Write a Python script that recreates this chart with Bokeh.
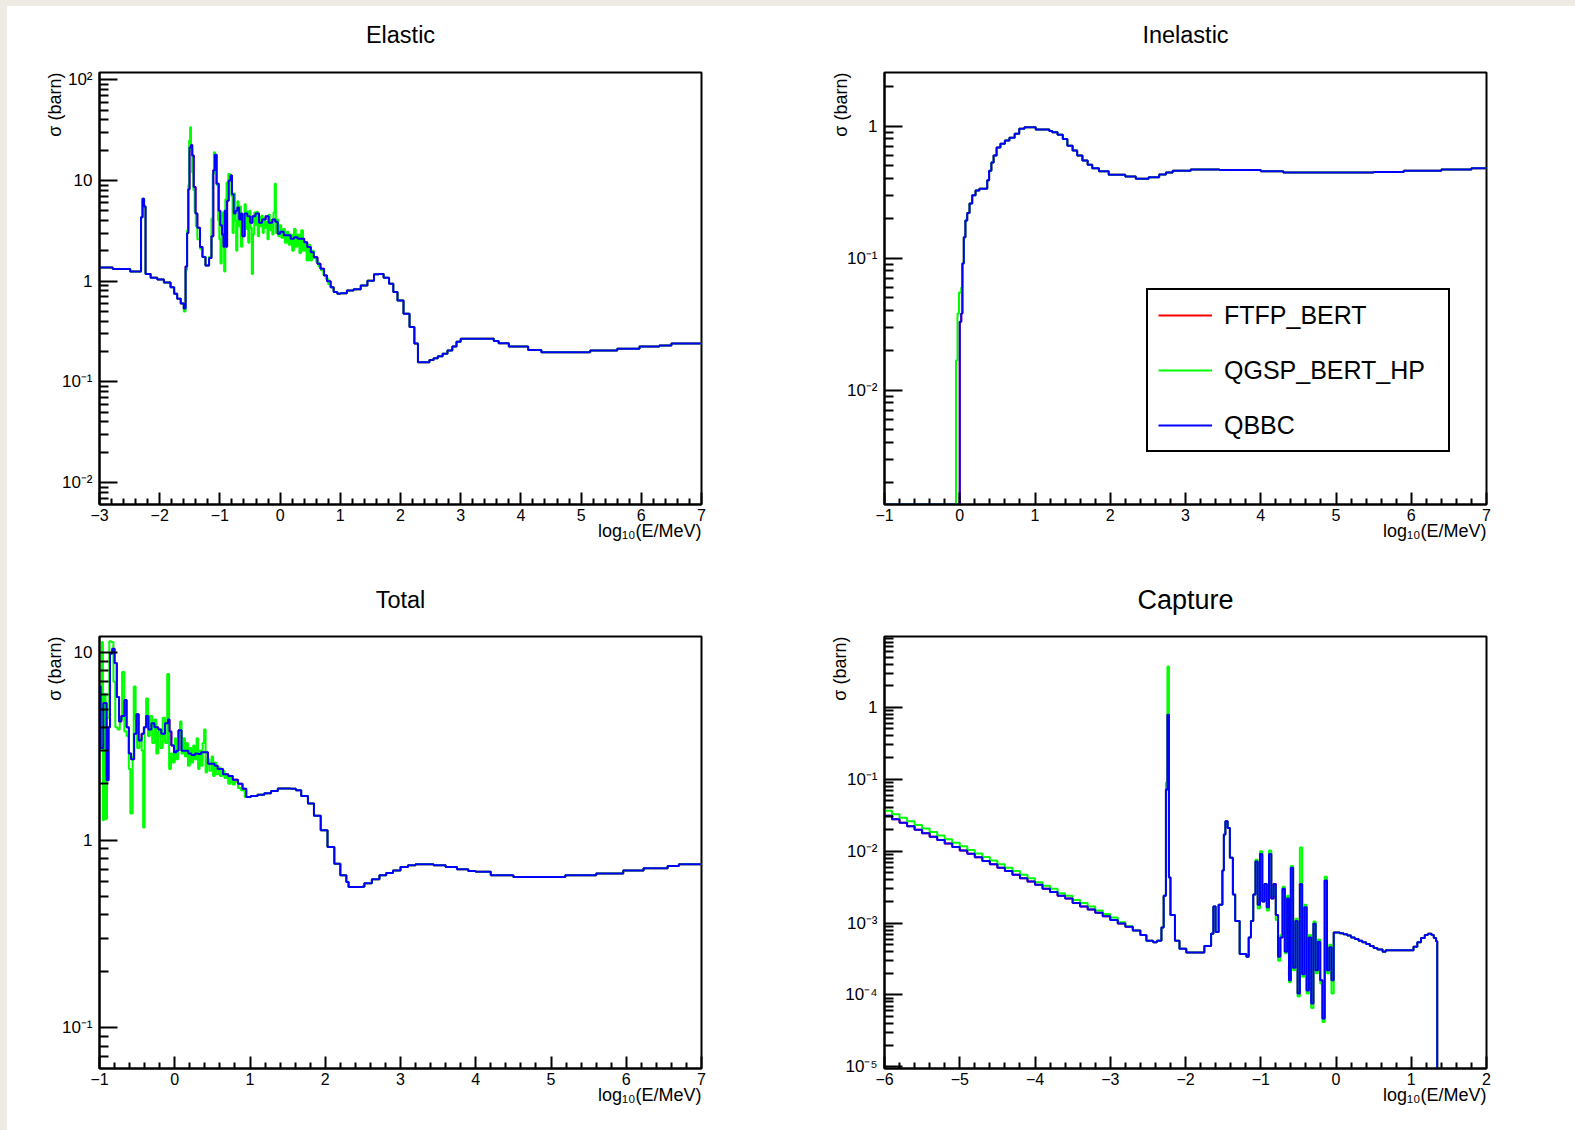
import math
from bokeh.plotting import figure
from bokeh.models import (Range1d, FixedTicker, CustomJSTickFormatter, Title,
                          Legend, LegendItem)
from bokeh.layouts import gridplot
from bokeh.embed import file_html
from bokeh.resources import INLINE

FONT = "Liberation Sans"
C_FTFP, C_HP, C_QBBC = "#ff0000", "#00ff00", "#0000ff"
SERIES = ["FTFP_BERT", "QGSP_BERT_HP", "QBBC"]
X_TITLE = "log\u2081\u2080(E/MeV)"
Y_TITLE = "\u03c3 (barn)"

# ---------------- Elastic ----------------
EL_QBBC = [(-3.00, 1.37), (-2.78, 1.32), (-2.49, 1.25), (-2.31, 4.3), (-2.285, 6.6),
           (-2.26, 5.5), (-2.235, 1.18), (-2.15, 1.08), (-2.04, 1.04), (-1.93, 0.97),
           (-1.82, 0.87), (-1.76, 0.75), (-1.71, 0.67), (-1.65, 0.60), (-1.60, 0.535),
           (-1.57, 1.4), (-1.545, 3.0), (-1.525, 8.2), (-1.505, 21.3), (-1.48, 22.5),
           (-1.46, 17.7), (-1.435, 8.6), (-1.405, 4.7), (-1.375, 3.4), (-1.33, 2.18),
           (-1.29, 1.74), (-1.24, 1.43), (-1.18, 1.7), (-1.14, 2.8), (-1.11, 12.6),
           (-1.085, 18.0), (-1.055, 9.3), (-1.02, 5.0), (-0.995, 3.6), (-0.965, 2.9),
           (-0.94, 2.2), (-0.92, 5.0), (-0.90, 2.2), (-0.88, 6.3), (-0.855, 10.0),
           (-0.825, 11.2), (-0.80, 7.3), (-0.77, 4.7), (-0.74, 5.0), (-0.71, 5.4),
           (-0.68, 4.1), (-0.655, 4.7), (-0.63, 2.8), (-0.59, 4.7), (-0.545, 4.4),
           (-0.50, 3.8), (-0.46, 4.4), (-0.41, 4.7), (-0.35, 3.8), (-0.30, 4.1),
           (-0.24, 4.4), (-0.19, 3.8), (-0.13, 4.1), (-0.08, 3.9), (-0.04, 2.96),
           (0.00, 3.1), (0.06, 2.85), (0.12, 2.85), (0.175, 2.64), (0.23, 2.73),
           (0.29, 2.64), (0.34, 2.64), (0.40, 2.44), (0.45, 2.18), (0.51, 1.94),
           (0.56, 1.73), (0.62, 1.49), (0.67, 1.33), (0.73, 1.14), (0.78, 1.0),
           (0.84, 0.87), (0.89, 0.78), (0.95, 0.75), (1.00, 0.76), (1.11, 0.81),
           (1.22, 0.83), (1.34, 0.906), (1.45, 1.01), (1.56, 1.17), (1.64, 1.18),
           (1.72, 1.08), (1.81, 0.94), (1.88, 0.78), (1.95, 0.643), (2.05, 0.475),
           (2.15, 0.35), (2.23, 0.24), (2.29, 0.157), (2.48, 0.165), (2.55, 0.172),
           (2.62, 0.18), (2.70, 0.19), (2.78, 0.205), (2.86, 0.225), (2.93, 0.25),
           (3.00, 0.268), (3.55, 0.255), (3.63, 0.242), (3.80, 0.224), (4.12, 0.207),
           (4.34, 0.197), (5.15, 0.205), (5.60, 0.213), (5.97, 0.224), (6.30, 0.23),
           (6.50, 0.24), (7.00, 0.24)]
EL_HP_SEG = [(-1.60, 0.50), (-1.57, 1.3), (-1.545, 3.2), (-1.525, 9.0), (-1.51, 25.0),
             (-1.495, 33.8), (-1.48, 20.0), (-1.46, 12.0), (-1.44, 8.0), (-1.42, 4.9),
             (-1.40, 3.5), (-1.375, 2.6), (-1.33, 2.1), (-1.29, 1.75), (-1.24, 1.43),
             (-1.18, 1.75), (-1.14, 4.2), (-1.12, 11.5), (-1.10, 19.1), (-1.08, 14.0),
             (-1.055, 9.0), (-1.03, 4.0), (-1.01, 2.6), (-0.99, 1.5), (-0.97, 4.8),
             (-0.95, 3.0), (-0.93, 1.25), (-0.91, 6.5), (-0.89, 9.5), (-0.86, 11.6),
             (-0.83, 10.5), (-0.81, 7.0), (-0.79, 3.0), (-0.77, 7.4), (-0.75, 4.0),
             (-0.73, 2.0), (-0.71, 6.2), (-0.69, 3.5), (-0.67, 5.5), (-0.65, 2.2),
             (-0.63, 4.2), (-0.61, 3.0), (-0.59, 5.8), (-0.57, 3.3), (-0.55, 4.9),
             (-0.53, 2.4), (-0.51, 5.0), (-0.49, 3.4), (-0.47, 1.18), (-0.45, 2.9),
             (-0.43, 4.8), (-0.41, 3.6), (-0.39, 4.9), (-0.37, 2.8), (-0.35, 4.3),
             (-0.33, 3.5), (-0.31, 4.5), (-0.29, 3.0), (-0.27, 4.2), (-0.25, 3.4),
             (-0.23, 3.9), (-0.21, 2.6), (-0.19, 4.6), (-0.17, 3.2), (-0.15, 4.0),
             (-0.13, 2.9), (-0.11, 4.8), (-0.09, 9.3), (-0.07, 3.0), (-0.05, 4.1),
             (-0.03, 2.8), (-0.01, 3.6), (0.02, 2.7), (0.05, 3.3), (0.08, 2.4),
             (0.11, 3.1), (0.14, 2.3), (0.17, 2.9), (0.20, 2.0), (0.23, 3.3),
             (0.26, 2.2), (0.29, 2.9), (0.32, 1.9), (0.35, 3.2), (0.38, 2.0),
             (0.41, 2.4), (0.44, 1.6), (0.47, 2.3), (0.50, 1.6), (0.53, 2.0),
             (0.56, 1.7), (0.60, 1.55), (0.64, 1.4), (0.68, 1.28), (0.72, 1.15),
             (0.76, 1.05), (0.80, 0.93), (0.84, 0.87), (0.89, 0.78), (0.95, 0.75)]

# ---------------- Inelastic ----------------
INEL_QBBC = [(-1.0, 0.0), (0.0, 0.033), (0.02, 0.038), (0.035, 0.091), (0.054, 0.144),
             (0.075, 0.193), (0.099, 0.22), (0.13, 0.26), (0.165, 0.30), (0.21, 0.326),
             (0.26, 0.336), (0.365, 0.39), (0.39, 0.46), (0.42, 0.53), (0.45, 0.60),
             (0.49, 0.69), (0.54, 0.735), (0.60, 0.78), (0.66, 0.817), (0.73, 0.875),
             (0.79, 0.955), (0.86, 0.98), (1.01, 0.944), (1.19, 0.92), (1.23, 0.90),
             (1.30, 0.86), (1.37, 0.80), (1.43, 0.71), (1.50, 0.655), (1.56, 0.60),
             (1.63, 0.55), (1.70, 0.51), (1.76, 0.48), (1.85, 0.456), (1.98, 0.428),
             (2.20, 0.416), (2.34, 0.40), (2.51, 0.41), (2.65, 0.43), (2.74, 0.445),
             (2.83, 0.46), (3.07, 0.47), (3.45, 0.465), (4.0, 0.455), (4.3, 0.445),
             (5.5, 0.45), (5.9, 0.46), (6.4, 0.47), (6.8, 0.48), (7.0, 0.48)]
INEL_HP_SEG = [(-1.0, 0.0), (-0.05, 0.0168), (-0.03, 0.038), (-0.01, 0.055), (0.02, 0.06)]

# ---------------- Total ----------------
TOT_QBBC = [(-1.00, 6.6), (-0.985, 3.1), (-0.95, 5.4), (-0.906, 2.09), (-0.88, 4.0),
            (-0.86, 9.9), (-0.83, 10.5), (-0.80, 8.8), (-0.77, 5.8), (-0.74, 4.3),
            (-0.71, 4.6), (-0.67, 5.6), (-0.64, 4.0), (-0.61, 2.9), (-0.58, 2.7),
            (-0.54, 3.7), (-0.51, 4.7), (-0.48, 3.4), (-0.44, 3.7), (-0.41, 4.0),
            (-0.38, 4.6), (-0.35, 3.9), (-0.31, 4.2), (-0.27, 4.0), (-0.22, 3.9),
            (-0.18, 3.7), (-0.13, 4.2), (-0.09, 4.4), (-0.07, 3.8), (-0.045, 3.2),
            (-0.01, 2.95), (0.02, 3.0), (0.05, 3.86), (0.09, 3.0), (0.13, 3.0),
            (0.18, 2.9), (0.22, 2.85), (0.27, 2.9), (0.31, 2.88), (0.35, 2.95),
            (0.40, 2.95), (0.44, 2.56), (0.53, 2.5), (0.57, 2.4), (0.64, 2.25),
            (0.71, 2.2), (0.77, 2.1), (0.84, 2.0), (0.90, 1.88), (0.95, 1.70),
            (1.01, 1.72), (1.10, 1.75), (1.19, 1.78), (1.28, 1.83), (1.37, 1.89),
            (1.54, 1.88), (1.61, 1.85), (1.68, 1.72), (1.77, 1.57), (1.85, 1.35),
            (1.94, 1.13), (2.03, 0.92), (2.12, 0.75), (2.20, 0.65), (2.28, 0.60),
            (2.31, 0.563), (2.49, 0.565), (2.52, 0.59), (2.62, 0.62), (2.72, 0.65),
            (2.81, 0.67), (2.90, 0.69), (3.00, 0.72), (3.10, 0.735), (3.20, 0.745),
            (3.44, 0.735), (3.60, 0.72), (3.75, 0.70), (3.90, 0.685), (4.00, 0.68),
            (4.20, 0.65), (4.50, 0.638), (5.19, 0.65), (5.60, 0.665), (5.96, 0.69),
            (6.23, 0.71), (6.55, 0.73), (6.70, 0.745), (7.00, 0.745)]
TOT_HP_SEG = [(-1.00, 3.5), (-0.97, 11.4), (-0.955, 1.28), (-0.94, 6.0), (-0.92, 1.3),
              (-0.90, 4.5), (-0.87, 11.5), (-0.845, 11.4), (-0.815, 7.0), (-0.79, 4.0),
              (-0.76, 3.9), (-0.73, 4.4), (-0.70, 7.9), (-0.67, 3.8), (-0.64, 3.6),
              (-0.61, 2.4), (-0.59, 1.39), (-0.56, 2.8), (-0.545, 6.6), (-0.52, 4.4),
              (-0.50, 3.1), (-0.47, 3.5), (-0.44, 3.0), (-0.42, 1.17), (-0.40, 4.0),
              (-0.38, 5.7), (-0.355, 3.6), (-0.33, 4.6), (-0.30, 3.3), (-0.27, 4.4),
              (-0.245, 2.9), (-0.22, 3.8), (-0.19, 3.1), (-0.16, 4.5), (-0.13, 3.3),
              (-0.10, 7.7), (-0.075, 2.4), (-0.05, 2.9), (-0.025, 2.6), (0.0, 3.5),
              (0.02, 2.7), (0.045, 3.6), (0.07, 4.3), (0.09, 2.9), (0.11, 3.5),
              (0.135, 2.8), (0.155, 3.3), (0.175, 2.5), (0.20, 3.1), (0.22, 2.6),
              (0.245, 3.2), (0.265, 2.7), (0.29, 3.5), (0.31, 2.4), (0.33, 3.0),
              (0.35, 2.5), (0.37, 3.3), (0.39, 3.9), (0.41, 2.3), (0.43, 2.7),
              (0.46, 2.35), (0.49, 2.8), (0.51, 2.2), (0.53, 2.6), (0.55, 2.25),
              (0.58, 2.45), (0.60, 2.2), (0.63, 2.35), (0.66, 2.15), (0.69, 2.25),
              (0.71, 2.0), (0.74, 2.2), (0.77, 1.98), (0.80, 2.05), (0.84, 1.9),
              (0.88, 1.85), (0.93, 1.70)]

# ---------------- Capture ----------------
CAP_QBBC = [(-6.0, 0.0310), (-5.9, 0.0277), (-5.8, 0.0248), (-5.7, 0.0222), (-5.6, 0.0199),
            (-5.5, 0.0178), (-5.4, 0.0159), (-5.3, 0.0143), (-5.2, 0.0128), (-5.1, 0.0114),
            (-5.0, 0.0102), (-4.9, 0.0092), (-4.8, 0.0082), (-4.7, 0.0073), (-4.6, 0.0066),
            (-4.5, 0.0059), (-4.4, 0.0053), (-4.3, 0.0047), (-4.2, 0.0042), (-4.1, 0.0038),
            (-4.0, 0.0034), (-3.9, 0.0030), (-3.8, 0.0027), (-3.7, 0.0024), (-3.6, 0.0022),
            (-3.5, 0.0019), (-3.4, 0.0017), (-3.3, 0.00155), (-3.2, 0.00139), (-3.1, 0.00124),
            (-3.0, 0.00110), (-2.9, 0.00099), (-2.8, 0.00089), (-2.7, 0.00079), (-2.6, 0.00068),
            (-2.52, 0.00057), (-2.43, 0.00054), (-2.38, 0.00057), (-2.32, 0.00087),
            (-2.29, 0.0024), (-2.26, 0.072), (-2.24, 0.79), (-2.22, 0.0043), (-2.20, 0.0013),
            (-2.14, 0.00057), (-2.08, 0.00044), (-1.99, 0.00039), (-1.87, 0.00039),
            (-1.75, 0.00048), (-1.66, 0.00071), (-1.63, 0.0017), (-1.60, 0.00075),
            (-1.56, 0.0018), (-1.51, 0.0054), (-1.49, 0.017), (-1.47, 0.026), (-1.44, 0.021),
            (-1.41, 0.0081), (-1.37, 0.0025), (-1.34, 0.00107), (-1.28, 0.00037),
            (-1.19, 0.00034), (-1.16, 0.00063), (-1.13, 0.00107), (-1.10, 0.0025),
            (-1.07, 0.0072), (-1.04, 0.0018), (-1.01, 0.0091), (-0.98, 0.0020),
            (-0.95, 0.0035), (-0.92, 0.00166), (-0.89, 0.0091), (-0.86, 0.0022),
            (-0.83, 0.0035), (-0.80, 0.0013), (-0.77, 0.00034), (-0.74, 0.00063),
            (-0.71, 0.0030), (-0.68, 0.00040), (-0.65, 0.0022), (-0.625, 0.00016),
            (-0.60, 0.0059), (-0.57, 0.00024), (-0.54, 0.00107), (-0.51, 0.000105),
            (-0.48, 0.0035), (-0.45, 0.000195), (-0.42, 0.00166), (-0.39, 0.000115),
            (-0.36, 0.00063), (-0.33, 0.000076), (-0.30, 0.00098), (-0.27, 0.00022),
            (-0.24, 0.00055), (-0.21, 0.00016), (-0.18, 0.000047), (-0.15, 0.0039),
            (-0.12, 0.00022), (-0.09, 0.00046), (-0.06, 0.00016), (-0.03, 0.00074),
            (0.05, 0.00072), (0.10, 0.00070), (0.15, 0.00067), (0.20, 0.00063),
            (0.25, 0.00060), (0.30, 0.00057), (0.35, 0.00054), (0.40, 0.00051),
            (0.45, 0.00048), (0.50, 0.00045), (0.55, 0.00043), (0.62, 0.00040),
            (0.66, 0.00042), (0.98, 0.00042), (1.03, 0.00047), (1.08, 0.00054),
            (1.13, 0.00062), (1.18, 0.00068), (1.22, 0.00071), (1.27, 0.00068),
            (1.30, 0.00062), (1.33, 0.00056), (1.345, 0.0)]
CAP_HP_SLOPE = [(-6.0, 0.0366), (-5.9, 0.0327), (-5.8, 0.0291), (-5.7, 0.0260), (-5.6, 0.0232),
                (-5.5, 0.0207), (-5.4, 0.0184), (-5.3, 0.0165), (-5.2, 0.0147), (-5.1, 0.0131),
                (-5.0, 0.0117), (-4.9, 0.0104), (-4.8, 0.0093), (-4.7, 0.0083), (-4.6, 0.0074),
                (-4.5, 0.0066), (-4.4, 0.0059), (-4.3, 0.0053), (-4.2, 0.0047), (-4.1, 0.0042),
                (-4.0, 0.0037), (-3.9, 0.0033), (-3.8, 0.0030), (-3.7, 0.0026), (-3.6, 0.0024),
                (-3.5, 0.0021), (-3.4, 0.0019), (-3.3, 0.0017), (-3.2, 0.0015), (-3.1, 0.00134),
                (-3.0, 0.00120), (-2.9, 0.00103), (-2.8, 0.00090), (-2.7, 0.00079)]
CAP_HP_SPIKE = [(-2.26, 0.09), (-2.24, 3.7), (-2.22, 0.0043)]
CAP_HP_NOISE = [(-1.07, 0.0076), (-1.04, 0.0016), (-1.01, 0.010), (-0.98, 0.0020),
                (-0.95, 0.0033), (-0.92, 0.0015), (-0.89, 0.0102), (-0.86, 0.0024),
                (-0.83, 0.0032), (-0.80, 0.0011), (-0.77, 0.00030), (-0.74, 0.00068),
                (-0.71, 0.0032), (-0.68, 0.00038), (-0.65, 0.0024), (-0.625, 0.00015),
                (-0.60, 0.0062), (-0.57, 0.00022), (-0.54, 0.00115), (-0.51, 0.000095),
                (-0.48, 0.0112), (-0.45, 0.00018), (-0.42, 0.0018), (-0.39, 0.000105),
                (-0.36, 0.00068), (-0.33, 0.000066), (-0.30, 0.00105), (-0.27, 0.00020),
                (-0.24, 0.00059), (-0.21, 0.000145), (-0.18, 0.000042), (-0.15, 0.0044),
                (-0.12, 0.00020), (-0.09, 0.00050), (-0.06, 0.000105), (-0.03, 0.00074)]


def splice(base, *segs):
    pts = list(base)
    for seg in segs:
        lo, hi = seg[0][0], seg[-1][0]
        pts = [p for p in pts if p[0] < lo or p[0] > hi] + list(seg)
    pts.sort(key=lambda p: p[0])
    return pts


SUP = {"-": "\u207b", "0": "\u2070", "1": "\u00b9", "2": "\u00b2", "3": "\u00b3",
       "4": "\u2074", "5": "\u2075", "6": "\u2076", "7": "\u2077", "8": "\u2078", "9": "\u2079"}
JS_FMT = """
const e = Math.round(Math.log10(tick));
if (e === 0) { return "1"; }
if (e === 1) { return "10"; }
const sup = %s;
return "10" + String(e).split("").map(c => sup[c]).join("");
""" % ("{" + ",".join('"%s":"%s"' % (k, v) for k, v in SUP.items()) + "}")


def panel(title, title_size, title_gap, ylab_standoff, xr, yr, w, h, bl, br, bt, bb,
          series):
    x0, x1 = xr
    ylo, yhi = yr
    p = figure(width=w, height=h, x_range=Range1d(x0, x1), y_range=Range1d(ylo, yhi),
               y_axis_type="log", output_backend="svg", toolbar_location=None,
               min_border_left=bl, min_border_right=br, min_border_top=bt,
               min_border_bottom=bb)
    p.grid.visible = False
    p.background_fill_color = "white"
    p.border_fill_color = "white"
    p.outline_line_color = "black"
    p.outline_line_width = 2
    p.outline_line_alpha = 1

    xmaj = list(range(int(x0), int(x1) + 1))
    nmin = int(round((x1 - x0) / 0.2))
    xmin = [round(x0 + 0.2 * k, 6) for k in range(nmin + 1) if k % 5 != 0]
    ax = p.xaxis[0]
    ax.ticker = FixedTicker(ticks=xmaj, minor_ticks=xmin)
    emin = math.ceil(math.log10(ylo) - 1e-9)
    emax = math.floor(math.log10(yhi) + 1e-9)
    ymaj = [10.0 ** e for e in range(emin, emax + 1)]
    ymin = [m * 10.0 ** e for e in range(emin - 1, emax + 1) for m in range(2, 10)
            if ylo <= m * 10.0 ** e <= yhi]
    ay = p.yaxis[0]
    ay.ticker = FixedTicker(ticks=ymaj, minor_ticks=ymin)
    ay.formatter = CustomJSTickFormatter(code=JS_FMT)

    for a, (mj, mn) in ((ax, (12, 6)), (ay, (18, 9))):
        a.axis_line_color = "black"
        a.axis_line_width = 2
        a.major_tick_in = mj
        a.major_tick_out = 0
        a.minor_tick_in = mn
        a.minor_tick_out = 0
        a.major_tick_line_width = 2
        a.minor_tick_line_width = 2
        a.major_tick_line_color = "black"
        a.minor_tick_line_color = "black"
        a.major_label_text_font = FONT
        a.major_label_text_color = "black"
    ax.major_label_text_font_size = "16px"
    ay.major_label_text_font_size = "17px"
    ax.major_label_standoff = 4
    ay.major_label_standoff = 7

    rends = []
    for pts, col in series:
        xs = [q[0] for q in pts]
        ys = [q[1] if q[1] > 0 else ylo for q in pts]
        r = p.step(x=xs, y=ys, mode="after", line_color=col, line_width=2)
        rends.append(r)

    # white (invisible) spacer next to the frame, then the real title above it
    p.add_layout(Title(text=" ", text_font_size="1px", text_color="white",
                       standoff=title_gap), "above")
    p.add_layout(Title(text=title, align="center", text_font=FONT,
                       text_font_size=title_size, text_font_style="normal",
                       text_color="black", standoff=0), "above")
    p.add_layout(Title(text=Y_TITLE, align="right", text_font=FONT,
                       text_font_size="18px", text_font_style="normal",
                       text_color="black", standoff=ylab_standoff), "left")
    p.add_layout(Title(text=X_TITLE, align="right", text_font=FONT,
                       text_font_size="18px", text_font_style="normal",
                       text_color="black", standoff=-10), "below")
    return p, rends


el_hp = splice(EL_QBBC, EL_HP_SEG)
inel_hp = splice(INEL_QBBC, INEL_HP_SEG)
tot_hp = splice(TOT_QBBC, TOT_HP_SEG)
cap_hp = splice(CAP_QBBC, CAP_HP_SLOPE, CAP_HP_SPIKE, CAP_HP_NOISE)

# canvas starts at page (7, 6); each pad is 784 x 562
p1, _ = panel("Elastic", "23.5px", 22, -12, (-3, 7), (0.00606, 118), 784, 562, 92, 90, 66, 64,
              [(EL_QBBC, C_FTFP), (el_hp, C_HP), (EL_QBBC, C_QBBC)])
p2, r2 = panel("Inelastic", "23.5px", 22, -15, (-1, 7), (0.00136, 2.55), 784, 562, 93, 89, 66, 64,
               [(INEL_QBBC, C_FTFP), (inel_hp, C_HP), (INEL_QBBC, C_QBBC)])
p3, _ = panel("Total", "23.5px", 21, -12, (-1, 7), (0.0607, 12.2), 784, 562, 92, 90, 68, 62,
              [(TOT_QBBC, C_FTFP), (tot_hp, C_HP), (TOT_QBBC, C_QBBC)])
p4, _ = panel("Capture", "27px", 19, -15, (-6, 2), (9.5e-6, 9.66), 784, 562, 93, 89, 68, 62,
              [(CAP_QBBC, C_FTFP), (cap_hp, C_HP), (CAP_QBBC, C_QBBC)])

legend = Legend(items=[LegendItem(label=SERIES[i], renderers=[r2[i]]) for i in range(3)],
                location=(262, 52), margin=0, padding=10, spacing=25,
                glyph_width=54, glyph_height=30, label_height=30, label_width=214,
                label_standoff=12, label_text_font=FONT, label_text_font_size="25px",
                label_text_color="black", border_line_color="black",
                border_line_width=2, border_line_alpha=1.0,
                background_fill_color="white", background_fill_alpha=1.0)
p2.add_layout(legend)

grid = gridplot([[p1, p2], [p3, p4]], toolbar_location=None)

html = file_html(grid, INLINE, title="Cross sections")
style = ("<style>html,body{background:"
         "linear-gradient(to right,#eeebe4 7px,rgba(255,255,255,0) 7px),"
         "linear-gradient(to bottom,#eeebe4 6px,#ffffff 6px) !important;}"
         "body{padding:6px 0 0 7px !important;}</style>")
html = html.replace("</head>", style + "</head>", 1)
open("out.html", "w").write(html)
